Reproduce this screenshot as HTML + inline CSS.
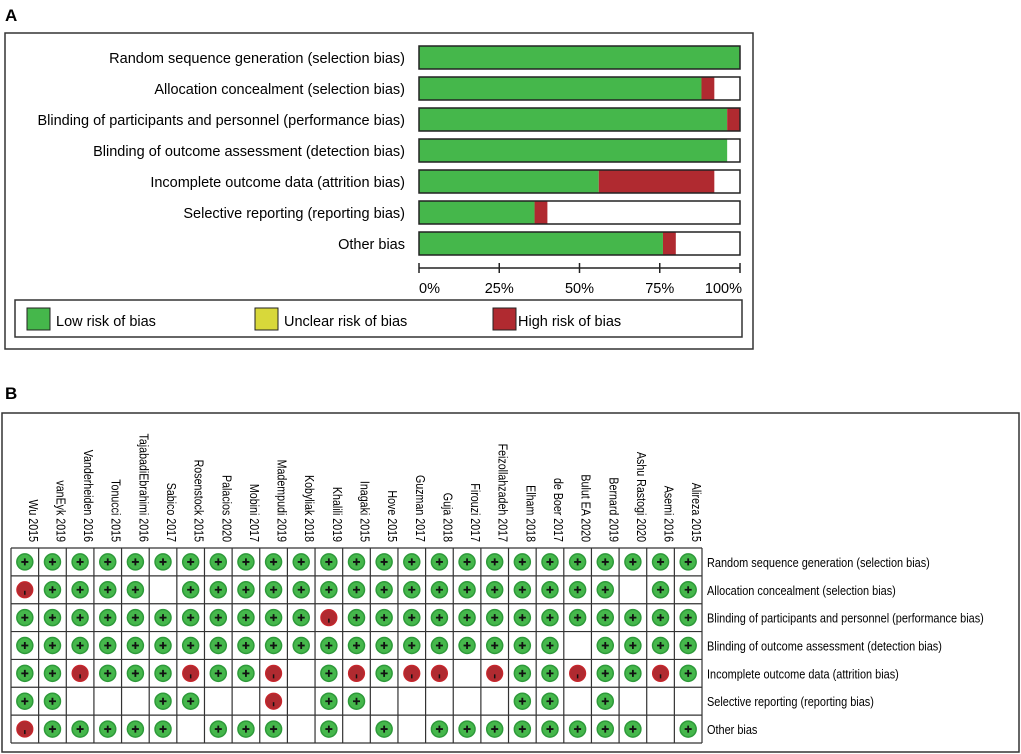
<!DOCTYPE html>
<html><head><meta charset="utf-8"><style>
body{margin:0;background:#fff;}
svg{display:block;font-family:"Liberation Sans",Arial,sans-serif;}
</style></head><body>
<svg id="fig" width="1021" height="754" viewBox="0 0 1021 754">
<text x="5" y="21" font-size="17" font-weight="bold">A</text>
<rect x="5" y="33" width="748" height="316" fill="none" stroke="#333" stroke-width="1.5"/>
<g id="barsA"></g>
<g id="axisA"></g>
<rect x="15" y="300" width="727" height="37" fill="none" stroke="#333" stroke-width="1.5"/>
<g><rect x="27" y="308" width="23" height="22" fill="#45b74b" stroke="#222"/><text x="56" y="326" font-size="14.5">Low risk of bias</text></g>
<g><rect x="255" y="308" width="23" height="22" fill="#d8d83a" stroke="#222"/><text x="284" y="326" font-size="14.5">Unclear risk of bias</text></g>
<g><rect x="493" y="308" width="23" height="22" fill="#b02a30" stroke="#222"/><text x="518" y="326" font-size="14.5">High risk of bias</text></g>

<text x="5" y="399" font-size="17" font-weight="bold">B</text>
<rect x="2" y="413" width="1017" height="339" fill="none" stroke="#333" stroke-width="1.5"/>
<g id="gridB"></g>
</svg>
<script>
const domains = ["Random sequence generation (selection bias)","Allocation concealment (selection bias)","Blinding of participants and personnel (performance bias)","Blinding of outcome assessment (detection bias)","Incomplete outcome data (attrition bias)","Selective reporting (reporting bias)","Other bias"];
const lowPct = [100, 88, 96, 96, 56, 36, 76];
const highPct = [0, 4, 4, 0, 36, 4, 4];
const tickLabels = ["0%","25%","50%","75%","100%"];
const tickValues = [0,25,50,75,100];
const studies = ["Wu 2015","vanEyk 2019","Vanderheiden 2016","Tonucci 2015","TajabadiEbrahimi 2016","Sabico 2017","Rosenstock  2015","Palacios 2020","Mobini 2017","Madempudi 2019","Kobyliak 2018","Khalili 2019","Inagaki 2015","Hove 2015","Guzman 2017","Guja 2018","Firouzi 2017","Feizollahzadeh 2017","Elham 2018","de Boer 2017","Bulut EA 2020","Bernard 2019","Ashu Rastogi 2020","Asemi 2016","Alireza 2015"];
const row1 = "ggggggggggggggggggggggggg";
const row2 = "rgggg-gggggggggggggggg-gg";
const row3 = "gggggggggggrggggggggggggg";
const row4 = "gggggggggggggggggggg-gggg";
const row5 = "ggrggrggr-grgrr-rggrggrg".length===24 ? "ggrgggrggr-grgrr-rggrggrg" : "";
const row6 = "gg---gg--r-gg-----gg-g---";
const row7 = "rggggg-ggg-g-g-gggggggg-g";
const judgements = [row1,row2,row3,row4,
 ["g","g","r","g","g","g","r","g","g","r","-","g","r","g","r","r","-","r","g","g","r","g","g","r","g"].join(""),
 ["g","g","-","-","-","g","g","-","-","r","-","g","g","-","-","-","-","-","g","g","-","g","-","-","-"].join(""),
 ["r","g","g","g","g","g","-","g","g","g","-","g","-","g","-","g","g","g","g","g","g","g","g","-","g"].join("")];

const NS="http://www.w3.org/2000/svg";
function mk(tag,attrs,parent){const e=document.createElementNS(NS,tag);for(const k in attrs)e.setAttribute(k,attrs[k]);parent.appendChild(e);return e;}
function squeeze(t,f){const L=t.getComputedTextLength();t.setAttribute("textLength",(L*f).toFixed(1));t.setAttribute("lengthAdjust","spacingAndGlyphs");}
// Panel A
const x0=419,x1=740; const xs=v=>x0+(x1-x0)*v/100;
const rowY=i=>46+i*31;
const barsA=document.getElementById("barsA");
domains.forEach((d,i)=>{
  const y=rowY(i);
  const t=mk("text",{x:405,y:y+17,"font-size":"14.5","text-anchor":"end"},barsA);t.textContent=d;
  
  
  const bg=mk("rect",{x:x0,y:y,width:x1-x0,height:23,fill:"#fff"},barsA);
  
  
  const g=mk("rect",{x:x0,y:y,width:xs(lowPct[i])-x0,height:23,fill:"#45b74b"},barsA);
  
  
  const r=mk("rect",{x:xs(lowPct[i]),y:y,width:xs(lowPct[i]+highPct[i])-xs(lowPct[i]),height:23,fill:"#b02a30"},barsA);
  
  
  const o=mk("rect",{x:x0,y:y,width:x1-x0,height:23,fill:"none",stroke:"#222","stroke-width":1.5},barsA);
  
  
});
const axisA=document.getElementById("axisA");
mk("line",{x1:x0,x2:x1,y1:268,y2:268,stroke:"#222","stroke-width":1.5},axisA);
tickValues.forEach((v,i)=>{
  mk("line",{x1:xs(v),x2:xs(v),y1:263,y2:273,stroke:"#222","stroke-width":1.5},axisA);
  const t=mk("text",{x:i==0?x0:(i==4?x1+2:xs(v)),y:293,"font-size":"14.5","text-anchor":i==0?"start":(i==4?"end":"middle")},axisA);
  t.textContent=tickLabels[i];
  
  
});
// Panel B
const gx0=11,gx1=702,gy0=548,gy1=743;
const cw=(gx1-gx0)/studies.length, rh=(gy1-gy0)/domains.length;
const gridB=document.getElementById("gridB");
studies.forEach((s,j)=>{
  const cx=gx0+cw*(j+0.5)+4;
  const t=mk("text",{transform:`translate(${cx},542) rotate(90)`,"font-size":"13","text-anchor":"end"},gridB);
  t.textContent=s;
  
  
  squeeze(t,0.82);
});
domains.forEach((d,i)=>{
  const t=mk("text",{x:707,y:gy0+rh*(i+0.5)+5,"font-size":"13"},gridB);
  t.textContent=d;
  
  
  squeeze(t,0.84);
  for(let j=0;j<studies.length;j++){
    const cx=gx0+cw*(j+0.5), cy=gy0+rh*(i+0.5);
    const c=judgements[i][j];
    if(c==="g"){
      const e=mk("circle",{cx:cx,cy:cy,r:8,fill:"#45b74b",stroke:"#2e9a3a","stroke-width":1.5},gridB);
      
      
      mk("path",{d:`M${cx-3.5},${cy}H${cx+3.5}M${cx},${cy-3.5}V${cy+3.5}`,stroke:"#111","stroke-width":1.8},gridB);
    } else if(c==="r"){
      const e=mk("circle",{cx:cx,cy:cy,r:8,fill:"#b02a30",stroke:"#c8262c","stroke-width":1.2},gridB);
      
      
      mk("path",{d:`M${cx},${cy+1}V${cy+5}`,stroke:"#111","stroke-width":1.5},gridB);
    }
  }
});
for(let j=0;j<=studies.length;j++){const x=gx0+cw*j;mk("line",{x1:x,x2:x,y1:gy0,y2:gy1,stroke:"#333","stroke-width":1.2},gridB);}
for(let i=0;i<=domains.length;i++){const y=gy0+rh*i;mk("line",{x1:gx0,x2:gx1,y1:y,y2:y,stroke:"#333","stroke-width":1.2},gridB);}
</script>
</body></html>
